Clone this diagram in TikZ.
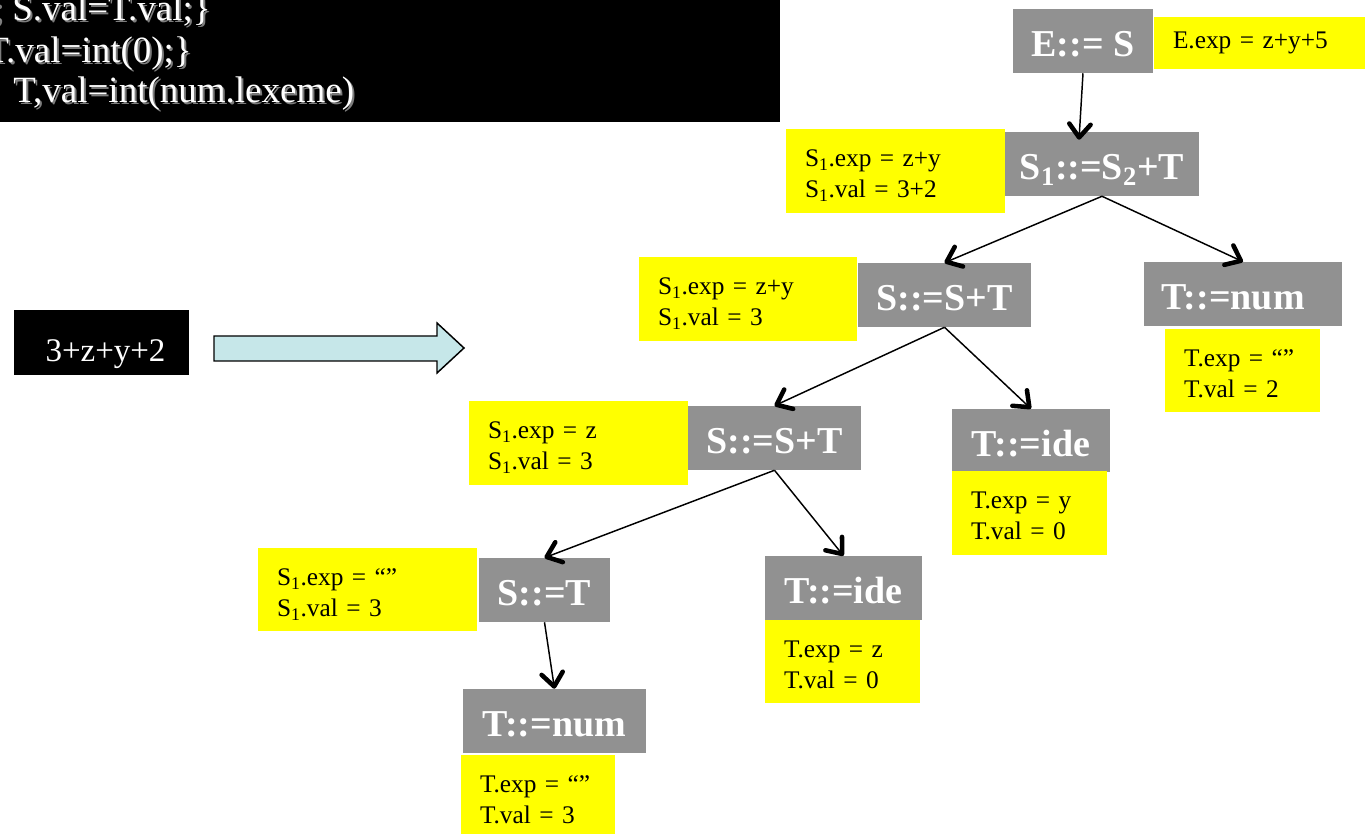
\documentclass[tikz,border=0pt]{standalone}
\usepackage{fontspec}
\setmainfont{Liberation Serif}
\usetikzlibrary{arrows.meta,calc}
\newlength\pxl
\setlength\pxl{0.75pt}
\definecolor{ruleGray}{RGB}{145,145,145}
\definecolor{attrYellow}{RGB}{255,255,0}
\definecolor{flowCyan}{RGB}{198,231,233}
\definecolor{shadowGray}{RGB}{125,125,125}
% two-line attribute text with fixed top and bottom struts
\newcommand\attrlines[2]{\rule{0pt}{20pt}#1\\\rule[-3pt]{0pt}{0pt}#2}

\begin{document}
\begin{tikzpicture}[x=0.75pt,y=-0.75pt,
  rule/.style={fill=ruleGray,text=white,inner sep=0pt,
    font=\fontsize{28.5}{31}\selectfont\bfseries,text height=23.25pt,text depth=0pt},
  attr/.style={fill=attrYellow,text=black,inner xsep=14.25pt,inner ysep=0pt,
    align=left,font=\fontsize{19}{23.25}\selectfont},
  edge/.style={line width=1.1pt,
    -{Straight Barb[length=10pt,width=16pt,line width=3.4pt,round]}},
  codeline/.style={anchor=base west,inner sep=0pt,
    font=\fontsize{27.75}{30}\selectfont,text=white},
  codeshadow/.style={codeline,text=shadowGray},
]
\useasboundingbox (0,0) rectangle (1365,834);
\clip (0,0) rectangle (1365,834);

% semantic-rule panel
\fill[black] (0,0) rectangle (780,122);
\begin{scope}
  \clip (0,0) rectangle (780,122);
  \node[codeshadow] (code1s) at (-5.5,23) {; S.val=T.val;\}};
  \node[codeline]   (code1)  at (-7.5,21) {; S.val=T.val;\}};
  \node[codeshadow] (code2s) at (-12,65) {T.val=int(0);\}};
  \node[codeline]   (code2)  at (-14,63) {T.val=int(0);\}};
  \node[codeshadow] (code3s) at (15,105) {T,val=int(num.lexeme)};
  \node[codeline]   (code3)  at (13,103) {T,val=int(num.lexeme)};
\end{scope}

% input string and block arrow
\node[fill=black,text=white,inner sep=0pt,minimum width=175\pxl,minimum height=65\pxl,
  text height=29.25pt,text depth=0pt,font=\fontsize{24.75}{28}\selectfont]
  (input) at (101.5,342.5) {\hspace*{8\pxl}3+z+y+2};
\draw[line width=1.1pt,fill=flowCyan,line join=miter]
  (214,336) -- (437,336) -- (437,323) -- (464,348) -- (437,373) -- (437,361) -- (214,361) -- cycle;

% parse-tree productions
\node[rule,minimum width=140\pxl,minimum height=64\pxl] (e)   at (1083,41)    {E::= S};
\node[rule,minimum width=194\pxl,minimum height=64\pxl] (s1)  at (1102,164)   {S\textsubscript{1}::=S\textsubscript{2}+T};
\node[rule,minimum width=173\pxl,minimum height=64\pxl] (sa)  at (944.5,295)  {S::=S+T};
\node[rule,minimum width=198\pxl,minimum height=64\pxl] (tn1) at (1243,294)   {T::=num\hspace*{20\pxl}};
\node[rule,minimum width=173\pxl,minimum height=64\pxl] (sb)  at (774.5,438)  {S::=S+T};
\node[rule,minimum width=158\pxl,minimum height=63\pxl] (ti1) at (1031,440.5) {T::=ide};
\node[rule,minimum width=131\pxl,minimum height=64\pxl] (st)  at (544.5,590)  {S::=T};
\node[rule,minimum width=157\pxl,minimum height=64\pxl] (ti2) at (843.5,588)  {T::=ide};
\node[rule,minimum width=183\pxl,minimum height=64\pxl] (tn2) at (554.5,721)  {T::=num};

% attribute values
\node[attr,minimum width=211\pxl,minimum height=52\pxl,text width=173\pxl] (ae)   at (1259.5,43)  {E.exp = z+y+5};
\node[attr,minimum width=219\pxl,minimum height=84\pxl,text width=181\pxl] (as1)  at (895.5,171)  {\attrlines{S\textsubscript{1}.exp = z+y}{S\textsubscript{1}.val = 3+2}};
\node[attr,minimum width=218\pxl,minimum height=84\pxl,text width=180\pxl] (asa)  at (748,299)    {\attrlines{S\textsubscript{1}.exp = z+y}{S\textsubscript{1}.val = 3}};
\node[attr,minimum width=155\pxl,minimum height=83\pxl,text width=117\pxl] (atn1) at (1242.5,370.5) {\attrlines{T.exp = “”}{T.val = 2}};
\node[attr,minimum width=219\pxl,minimum height=84\pxl,text width=181\pxl] (asb)  at (578.5,443)  {\attrlines{S\textsubscript{1}.exp = z}{S\textsubscript{1}.val = 3}};
\node[attr,minimum width=155\pxl,minimum height=84\pxl,text width=117\pxl] (ati1) at (1029.5,513) {\attrlines{T.exp = y}{T.val = 0}};
\node[attr,minimum width=219\pxl,minimum height=83\pxl,text width=181\pxl] (ast)  at (367.5,589.5) {\attrlines{S\textsubscript{1}.exp = “”}{S\textsubscript{1}.val = 3}};
\node[attr,minimum width=155\pxl,minimum height=83\pxl,text width=117\pxl] (ati2) at (842.5,661.5) {\attrlines{T.exp = z}{T.val = 0}};
\node[attr,minimum width=154\pxl,minimum height=83\pxl,text width=116\pxl] (atn2) at (538,796.5)  {\attrlines{T.exp = “”}{T.val = 3}};

% tree edges
\draw[edge] (e.south)   -- ($(s1.north)+(-23,8)$);
\draw[edge] (s1.south)  -- (sa.north);
\draw[edge] (s1.south)  -- (tn1.north);
\draw[edge] (sa.south)  -- (sb.north);
\draw[edge] (sa.south)  -- (ti1.north);
\draw[edge] (sb.south)  -- (st.north);
\draw[edge] (sb.south)  -- (ti2.north);
\draw[edge] (st.south)  -- (tn2.north);
\end{tikzpicture}
\end{document}
